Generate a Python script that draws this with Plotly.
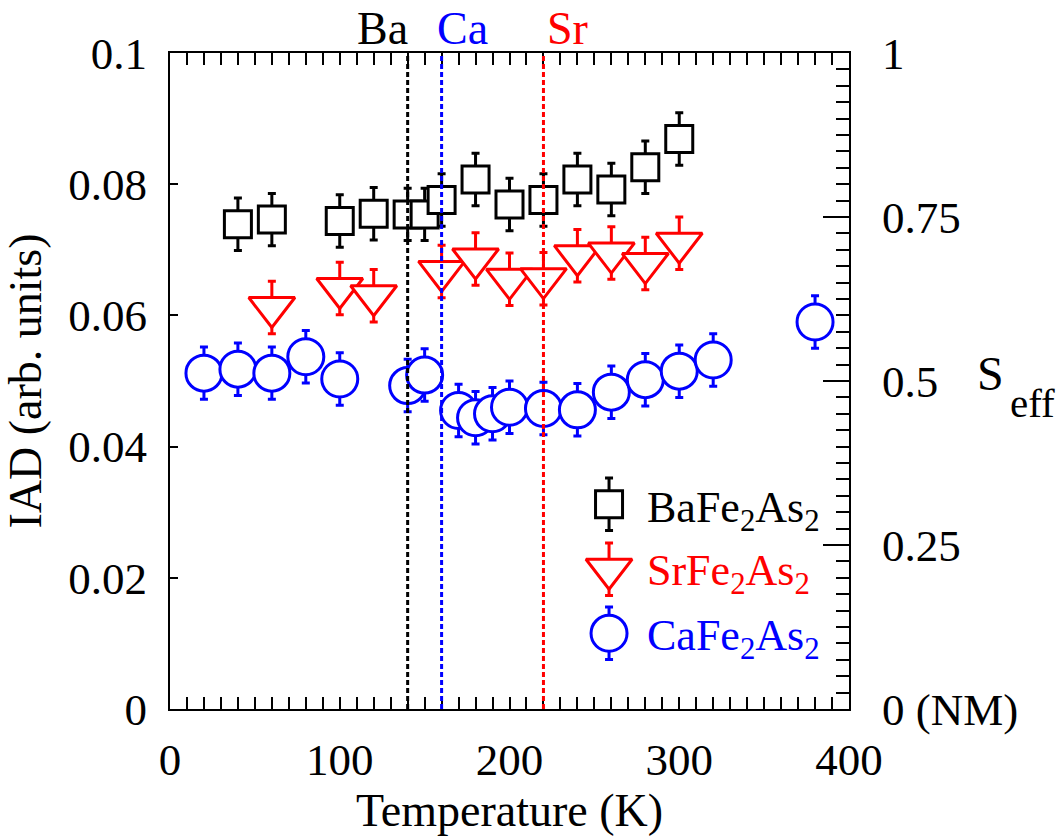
import plotly.graph_objects as go

# ---------------- data ----------------
ba_T = [40, 60, 100, 120, 140, 150, 160, 180, 200, 220, 240, 260, 280, 300]
ba_iad = [0.0739, 0.0746, 0.0744, 0.0755, 0.0754, 0.0754, 0.0776, 0.0807,
          0.0769, 0.0776, 0.0807, 0.0792, 0.0826, 0.0869]
ba_err = [0.004, 0.004, 0.004, 0.004, 0.004, 0.004, 0.004, 0.004,
          0.004, 0.004, 0.004, 0.004, 0.004, 0.004]

sr_T = [60, 100, 120, 160, 180, 200, 220, 240, 260, 280, 300]
sr_iad = [0.0612, 0.0641, 0.0630, 0.0667, 0.0686, 0.0655, 0.0656, 0.0691,
          0.0695, 0.0679, 0.0710]
sr_err = [0.004, 0.004, 0.004, 0.004, 0.004, 0.004, 0.004, 0.004,
          0.004, 0.004, 0.004]

ca_T = [20, 40, 60, 80, 100, 140, 150, 170, 180, 190, 200, 220, 240, 260,
        280, 300, 320, 380]
ca_iad = [0.0512, 0.0518, 0.0512, 0.0537, 0.0503, 0.0493, 0.0509, 0.0455,
          0.0444, 0.0450, 0.0460, 0.0458, 0.0456, 0.0483, 0.0502, 0.0515,
          0.0532, 0.0590]
ca_err = [0.004, 0.004, 0.004, 0.004, 0.004, 0.004, 0.004, 0.004, 0.004,
          0.004, 0.004, 0.004, 0.004, 0.004, 0.004, 0.004, 0.004, 0.004]

# structural transition temperatures (dotted lines)
trans_names = ["Ba", "Ca", "Sr"]
trans_T = [140, 160, 220]

series_names = ["BaFe<sub>2</sub>As<sub>2</sub>",
                "SrFe<sub>2</sub>As<sub>2</sub>",
                "CaFe<sub>2</sub>As<sub>2</sub>"]

x_ticks = [0, 100, 200, 300, 400]
y_ticks = [0, 0.02, 0.04, 0.06, 0.08, 0.1]
y_ticktext = ["0", "0.02", "0.04", "0.06", "0.08", "0.1"]
s_ticks = [0, 0.25, 0.5, 0.75, 1]
s_ticktext = ["0 (NM)", "0.25", "0.5", "0.75", "1"]

IAD_MAX = 0.1
S_MAX = 1

# ---------------- styles ----------------
FONT = "Times New Roman, Liberation Serif, Times, serif"
BLACK, RED, BLUE = "#000000", "#ff0000", "#0000ff"
colors = [BLACK, RED, BLUE]
symbols = ["square", "triangle-down", "circle"]
sizes = [27, 40, 36]

fig = go.Figure()

for T, v, e, sym, sz, col in zip([ba_T, sr_T, ca_T], [ba_iad, sr_iad, ca_iad],
                                 [ba_err, sr_err, ca_err], symbols, sizes, colors):
    fig.add_trace(go.Scatter(
        x=T, y=v, mode="markers", showlegend=False, cliponaxis=False,
        marker=dict(symbol=sym, size=sz, color="white",
                    line=dict(color=col, width=3)),
        error_y=dict(type="data", array=e, color=col, thickness=3, width=4),
    ))

# ---------------- hand-made legend (layout positions in plot fractions) ----------------
leg_x = 0.6466
leg_y = [0.312, 0.213, 0.1154]
leg_text_x = 0.6996
leg_text_y = [0.303, 0.206, 0.108]
for sym, sz, col, y, err in zip(symbols, sizes, colors, leg_y,
                                [ba_err[0], sr_err[0], ca_err[0]]):
    fig.add_trace(go.Scatter(
        x=[leg_x], y=[y], xaxis="x3", yaxis="y3", mode="markers",
        showlegend=False, cliponaxis=False,
        marker=dict(symbol=sym, size=sz, color="white",
                    line=dict(color=col, width=3)),
        error_y=dict(type="data", array=[err / IAD_MAX], color=col,
                     thickness=3, width=4),
    ))

annotations = []
for name, col, y in zip(series_names, colors, leg_text_y):
    annotations.append(dict(
        text=name, x=leg_text_x, y=y, xref="paper", yref="paper",
        xanchor="left", yanchor="middle", showarrow=False,
        font=dict(family=FONT, size=44, color=col)))

# transition labels above the frame
label_anchor = ["right", "left", "left"]
label_shift = [2, -7, 2]
for name, T, col, anc, sh in zip(trans_names, trans_T, [BLACK, BLUE, RED],
                                 label_anchor, label_shift):
    annotations.append(dict(
        text=name, x=T, xref="x", y=1.038, yref="paper", xanchor=anc,
        yanchor="middle", xshift=sh, showarrow=False,
        font=dict(family=FONT, size=46, color=col)))

# S_eff right-axis title
annotations.append(dict(text="S", x=1.1856, y=0.511, xref="paper", yref="paper",
                        xanchor="left", yanchor="middle", showarrow=False,
                        font=dict(family=FONT, size=48, color=BLACK)))
annotations.append(dict(text="eff", x=1.234, y=0.466, xref="paper", yref="paper",
                        xanchor="left", yanchor="middle", showarrow=False,
                        font=dict(family=FONT, size=41, color=BLACK)))

shapes = []
for T, col in zip(trans_T, [BLACK, BLUE, RED]):
    shapes.append(dict(type="line", xref="x", yref="paper", x0=T, x1=T,
                       y0=0, y1=1, layer="above",
                       line=dict(color=col, width=3, dash="5px,3px")))

axis_common = dict(showgrid=False, zeroline=False, showline=True,
                   linecolor=BLACK, linewidth=2, tickcolor=BLACK,
                   tickfont=dict(family=FONT, size=45, color=BLACK))

fig.update_layout(
    width=1063, height=837,
    margin=dict(l=170, r=214, t=53, b=117, pad=0),
    paper_bgcolor="white", plot_bgcolor="white",
    showlegend=False,
    font=dict(family=FONT, color=BLACK),
    xaxis=dict(range=[0, 400], tickvals=x_ticks, ticks="inside", ticklen=12,
               tickwidth=2, mirror="allticks", ticklabelstandoff=10,
               minor=dict(dtick=10, ticks="inside", ticklen=6, tickwidth=1.5,
                          tickcolor=BLACK),
               title=dict(text="Temperature (K)", standoff=8,
                          font=dict(family=FONT, size=46, color=BLACK)),
               **axis_common),
    yaxis=dict(range=[0, IAD_MAX], tickvals=y_ticks, ticktext=y_ticktext,
               ticks="inside", ticklen=8, tickwidth=2, ticklabelstandoff=12,
               title=dict(text="IAD (arb. units)", standoff=14,
                          font=dict(family=FONT, size=46, color=BLACK)),
               **axis_common),
    yaxis2=dict(range=[0, S_MAX], overlaying="y", side="right",
                tickvals=s_ticks, ticktext=s_ticktext, ticks="inside",
                ticklen=26, tickwidth=2, ticklabelstandoff=22,
                minor=dict(dtick=0.025, ticks="inside", ticklen=13,
                           tickwidth=1.5, tickcolor=BLACK),
                **axis_common),
    xaxis3=dict(range=[0, 1], overlaying="x", visible=False),
    yaxis3=dict(range=[0, 1], overlaying="y", visible=False),
    annotations=annotations,
    shapes=shapes,
)

# invisible trace to activate the right-hand S_eff axis
fig.add_trace(go.Scatter(x=[None], y=[None], yaxis="y2", showlegend=False,
                         hoverinfo="skip"))

fig.write_html("out.html")
